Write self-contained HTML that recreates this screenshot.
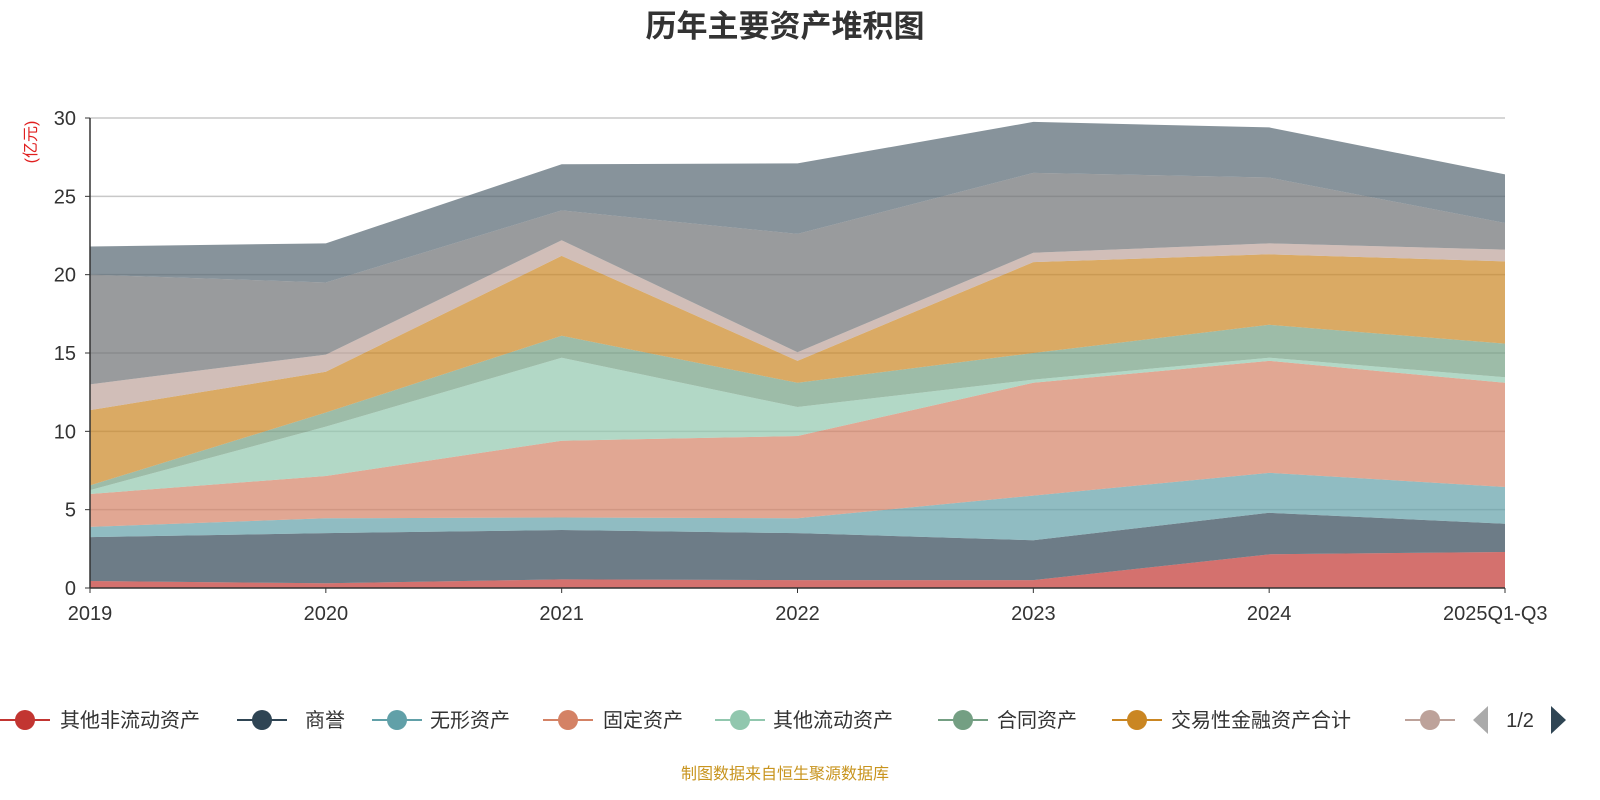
<!DOCTYPE html>
<html><head><meta charset="utf-8">
<style>
html,body{margin:0;padding:0;background:#fff;width:1600px;height:800px;overflow:hidden}
svg text{font-family:"Liberation Sans","Noto Sans CJK SC",sans-serif}
</style></head>
<body>
<svg id="chart" width="1600" height="800">
<text x="785" y="37" text-anchor="middle" font-size="31" font-weight="bold" fill="#333">历年主要资产堆积图</text>
<text transform="translate(36,142) rotate(-90)" text-anchor="middle" font-size="16" fill="#e02020">(亿元)</text>
<g id="grid"></g>
<g id="areas"></g>
<g id="axes"></g>
<g id="legend"></g>
<text x="785" y="779" text-anchor="middle" font-size="16" fill="#c8941e">制图数据来自恒生聚源数据库</text>
</svg>
<script>
const categories=["2019","2020","2021","2022","2023","2024","2025Q1-Q3"];
const seriesNames=["其他非流动资产","商誉","无形资产","固定资产","其他流动资产","合同资产","交易性金融资产合计","应收账款","存货","货币资金"];
const s0=[0.45,0.3,0.55,0.5,0.5,2.15,2.3];
const s1=[2.8,3.2,3.15,3.0,2.55,2.65,1.8];
const s2=[0.65,0.95,0.8,0.95,2.85,2.55,2.35];
const s3=[2.1,2.7,4.9,5.25,7.2,7.15,6.65];
const s4=[0.25,3.15,5.3,1.85,0.2,0.2,0.35];
const s5=[0.3,0.9,1.4,1.55,1.7,2.1,2.15];
const s6=[4.8,2.6,5.1,1.4,5.8,4.5,5.25];
const s7=[1.65,1.1,1.0,0.55,0.6,0.7,0.75];
const s8=[7.0,4.6,1.9,7.55,5.1,4.2,1.7];
const s9=[1.8,2.5,2.95,4.5,3.25,3.2,3.1];
const yTicks=[0,5,10,15,20,25,30];
const series=[s0,s1,s2,s3,s4,s5,s6,s7,s8,s9];
const colors=["#c23531","#2f4554","#61a0a8","#d48265","#91c7ae","#749f83","#ca8622","#bda29a","#6e7074","#546570"];
const NS="http://www.w3.org/2000/svg";
const X0=90,X1=1505,Y0=588,Y1=118,YMAX=30;
const x=i=>X0+i*(X1-X0)/(categories.length-1);
const y=v=>Y0-v*(Y0-Y1)/YMAX;
function mk(tag,attrs,parent){const e=document.createElementNS(NS,tag);for(const k in attrs)e.setAttribute(k,attrs[k]);parent.appendChild(e);return e;}
const grid=document.getElementById('grid'),axes=document.getElementById('axes'),areas=document.getElementById('areas'),legend=document.getElementById('legend');
yTicks.forEach(t=>{
  if(t>0){const l=mk('line',{x1:X0,x2:X1,y1:y(t),y2:y(t),stroke:'#c8c8c8','stroke-width':1.5},grid);
  
  }
  const tx=mk('text',{x:X0-14,y:y(t)+7,'text-anchor':'end','font-size':20,fill:'#333'},axes);tx.textContent=t;
  
  
  mk('line',{x1:X0-5,x2:X0,y1:y(t),y2:y(t),stroke:'#333'},axes);
});
let cum=categories.map(()=>0);
series.forEach((s,k)=>{
  const low=cum.slice();const high=cum.map((c,i)=>c+s[i]);
  let d='M'+categories.map((c,i)=>x(i)+','+y(high[i])).join('L');
  for(let i=categories.length-1;i>=0;i--)d+='L'+x(i)+','+y(low[i]);
  d+='Z';
  const p=mk('path',{d:d,fill:colors[k],'fill-opacity':0.7},areas);
  
  
  cum=high;
});
const ax=mk('line',{x1:X0,x2:X0,y1:Y1,y2:Y0,stroke:'#333','stroke-width':1.5},axes);


const xa=mk('line',{x1:X0,x2:X1,y1:Y0,y2:Y0,stroke:'#333','stroke-width':1.5},axes);


categories.forEach((c,i)=>{
  mk('line',{x1:x(i),x2:x(i),y1:Y0,y2:Y0+5,stroke:'#333'},axes);
  const anchor=i===categories.length-1?'start':'middle';
  const tx=mk('text',{x:i===categories.length-1?x(i)-62:x(i),y:620,'text-anchor':anchor,'font-size':20,fill:'#333'},axes);tx.textContent=c;
  
  
});
const legIcon=[25,262,397,568,740,963,1137,1430];
const legText=[60,305,430,603,773,997,1171,null];
for(let k=0;k<8;k++){
  const g=mk('g',{},legend);
  
  
  mk('line',{x1:legIcon[k]-25,x2:legIcon[k]+25,y1:720,y2:720,stroke:colors[k],'stroke-width':2},g);
  mk('circle',{cx:legIcon[k],cy:720,r:10,fill:colors[k]},g);
  if(legText[k]){const t=mk('text',{x:legText[k],y:727,'font-size':20,fill:'#333'},g);t.textContent=seriesNames[k];}
}
const prev=mk('path',{d:'M1488,706 L1488,734 L1473,720 Z',fill:'#aaa'},legend);


const pg=mk('text',{x:1520,y:727,'text-anchor':'middle','font-size':20,fill:'#333'},legend);pg.textContent='1/2';


const nxt=mk('path',{d:'M1551,706 L1551,734 L1566,720 Z',fill:'#2f4554'},legend);


</script>
</body></html>
